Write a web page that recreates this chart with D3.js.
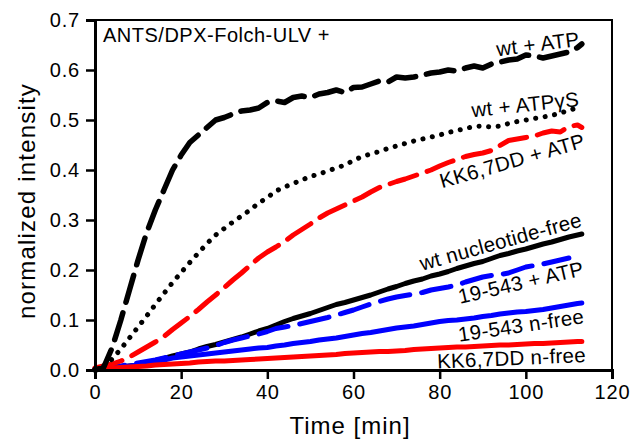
<!DOCTYPE html>
<html>
<head>
  <script src="https://d3js.org/d3.v7.min.js"></script>
  <style>
    body { margin: 0; background: #fff; }
    text { font-family: "Liberation Sans", Arial, sans-serif; fill: #000; }
  </style>
</head>
<body>
<svg width="633" height="443"></svg>
<script>
  // time grid (min)
  var times = [0,2,4,6,8,10,12,14,16,18,20,22,24,26,28,30,32,34,36,38,40,42,44,46,48,50,52,54,56,58,
    60,62,64,66,68,70,72,74,76,78,80,82,84,86,88,90,92,94,96,98,100,102,104,106,108,110,112,113];

  var wtATP = [0,0.005,0.045,0.10,0.16,0.22,0.275,0.32,0.36,0.40,0.43,0.455,0.47,0.485,0.50,0.505,0.512,0.518,0.52,0.524,
    0.535,0.538,0.535,0.545,0.548,0.545,0.552,0.555,0.56,0.555,0.565,0.566,0.572,0.578,0.576,0.586,0.584,0.586,0.59,0.594,
    0.596,0.60,0.598,0.604,0.608,0.604,0.612,0.616,0.62,0.622,0.63,0.628,0.624,0.628,0.632,0.636,0.645,0.652];
  var wtATPgS = [0.002,0.008,0.022,0.042,0.064,0.086,0.108,0.131,0.153,0.175,0.195,0.215,0.234,0.253,0.27,0.283,0.296,0.308,0.32,0.334,
    0.345,0.358,0.366,0.373,0.38,0.387,0.392,0.398,0.404,0.41,0.419,0.427,0.432,0.437,0.443,0.448,0.453,0.458,0.462,0.466,
    0.47,0.475,0.479,0.483,0.487,0.488,0.486,0.488,0.493,0.497,0.5,0.503,0.506,0.509,0.514,0.519,0.525,0.527];
  var kkATP = [0.004,0.008,0.012,0.018,0.026,0.036,0.046,0.056,0.067,0.081,0.094,0.107,0.121,0.136,0.15,0.165,0.18,0.194,0.209,0.224,
    0.236,0.246,0.257,0.27,0.281,0.292,0.304,0.314,0.322,0.33,0.338,0.346,0.356,0.365,0.371,0.377,0.382,0.388,0.394,0.40,
    0.408,0.415,0.421,0.427,0.431,0.434,0.439,0.449,0.459,0.462,0.465,0.468,0.474,0.478,0.476,0.487,0.49,0.485];
  var wtFree = [0.002,0.004,0.005,0.006,0.008,0.01,0.014,0.019,0.023,0.028,0.032,0.036,0.042,0.047,0.051,0.056,0.061,0.066,0.072,0.078,
    0.083,0.09,0.097,0.103,0.108,0.113,0.119,0.125,0.131,0.135,0.14,0.145,0.15,0.156,0.162,0.167,0.173,0.178,0.182,0.188,
    0.192,0.197,0.203,0.208,0.213,0.217,0.223,0.229,0.233,0.238,0.242,0.247,0.252,0.256,0.261,0.266,0.27,0.272];
  var mutATP = [0.002,0.004,0.006,0.008,0.011,0.014,0.017,0.02,0.024,0.028,0.032,0.036,0.04,0.044,0.049,0.055,0.06,0.064,0.068,0.072,
    0.077,0.083,0.086,0.089,0.093,0.097,0.101,0.105,0.11,0.115,0.12,0.126,0.132,0.137,0.142,0.146,0.149,0.152,0.155,0.16,
    0.163,0.166,0.17,0.176,0.181,0.186,0.189,0.191,0.194,0.2,0.206,0.209,0.212,0.216,0.22,0.224];
  var mutFree = [0.002,0.003,0.005,0.006,0.008,0.01,0.013,0.017,0.02,0.024,0.026,0.028,0.03,0.032,0.034,0.036,0.038,0.04,0.042,0.044,
    0.045,0.048,0.05,0.053,0.055,0.057,0.06,0.062,0.064,0.067,0.07,0.073,0.075,0.078,0.081,0.084,0.086,0.088,0.091,0.094,
    0.097,0.099,0.1,0.102,0.104,0.107,0.109,0.112,0.114,0.116,0.117,0.119,0.121,0.124,0.127,0.13,0.133,0.134];
  var kkFree = [0.002,0.003,0.004,0.005,0.006,0.007,0.008,0.01,0.011,0.012,0.013,0.014,0.016,0.017,0.018,0.018,0.019,0.02,0.021,0.022,
    0.023,0.024,0.025,0.026,0.027,0.028,0.029,0.03,0.031,0.033,0.034,0.035,0.036,0.037,0.037,0.038,0.039,0.041,0.042,0.043,
    0.044,0.045,0.046,0.046,0.047,0.048,0.049,0.05,0.05,0.051,0.052,0.053,0.053,0.054,0.055,0.056,0.057,0.057];

  var xTicks = [0,20,40,60,80,100,120];
  var yTicks = [0,0.1,0.2,0.3,0.4,0.5,0.6,0.7];

  var svg = d3.select("svg"),
    plotL = 95, plotR = 612, plotT = 20, plotB = 370;

  var x = d3.scaleLinear().domain([0,120]).range([plotL,plotR]);
  var y = d3.scaleLinear().domain([0,0.7]).range([plotB,plotT]);

  var line = d3.line()
    .x(function(d) { return x(d[0]); })
    .y(function(d) { return y(d[1]); });

  function pts(vals) {
    return vals.map(function(v, i) { return [times[i], v]; });
  }

  // draw order: bottom first
  var series = [
    {vals: wtFree, color: "#000", w: 5, dash: null},
    {vals: mutATP, color: "#0000ff", w: 5, dash: "30,12"},
    {vals: mutFree, color: "#0000ff", w: 5, dash: null},
    {vals: kkFree, color: "#ff0000", w: 5, dash: null},
    {vals: kkATP, color: "#ff0000", w: 5, dash: "28,11"},
    {vals: wtATPgS, color: "#000", w: 5, dash: "0.1,9.5"},
    {vals: wtATP, color: "#000", w: 5.5, dash: "28,11"}
  ];

  svg.selectAll("path.series")
    .data(series)
    .enter()
    .append("path")
    .attr("class", "series")
    .attr("fill", "none")
    .attr("stroke", function(d) { return d.color; })
    .attr("stroke-width", function(d) { return d.w; })
    .attr("stroke-linecap", "round")
    .attr("stroke-linejoin", "round")
    .attr("stroke-dasharray", function(d) { return d.dash; })
    .attr("d", function(d) { return line(pts(d.vals)); });

  // frame top / right
  svg.append("path")
    .attr("d", "M" + plotL + "," + plotT + "H" + plotR + "V" + plotB)
    .attr("fill", "none").attr("stroke", "#000").attr("stroke-width", 2);

  // axes
  var xAxis = svg.append("g").attr("transform", "translate(0," + plotB + ")")
    .call(d3.axisBottom(x).tickValues(xTicks).tickSize(9).tickPadding(6).tickFormat(d3.format("d")));
  var yAxis = svg.append("g").attr("transform", "translate(" + plotL + ",0)")
    .call(d3.axisLeft(y).tickValues(yTicks).tickSize(9).tickPadding(6).tickFormat(d3.format(".1f")));

  [xAxis, yAxis].forEach(function(g) {
    g.select(".domain").attr("stroke-width", 3);
    g.selectAll(".tick line").attr("stroke-width", 2.5);
    g.selectAll("text").attr("font-size", 20).attr("fill", "#000")
      .style("font-family", '"Liberation Sans", Arial, sans-serif')
      .style("letter-spacing", "0.8px");
  });

  // axis titles
  svg.append("text")
    .attr("x", 350).attr("y", 434)
    .attr("text-anchor", "middle")
    .attr("font-size", 24)
    .style("letter-spacing", "1px")
    .text("Time [min]");

  svg.append("text")
    .attr("transform", "translate(35,201) rotate(-90)")
    .attr("text-anchor", "middle")
    .attr("font-size", 24)
    .style("letter-spacing", "1.2px")
    .text("normalized intensity");

  svg.append("text")
    .attr("x", 103).attr("y", 42)
    .attr("font-size", 20)
    .style("letter-spacing", "0.5px")
    .text("ANTS/DPX-Folch-ULV +");

  // curve labels
  var labels = ["wt + ATP", "wt + ATP\u03b3S", "KK6,7DD + ATP", "wt nucleotide-free", "19-543 + ATP", "19-543 n-free", "KK6,7DD n-free"];
  var labelT = [112.6, 112.5, 114, 113.3, 113.7, 113.7, 114];
  var labelV = [0.648, 0.528, 0.446, 0.288, 0.19, 0.094, 0.016];
  var labelAngle = [-7, -6, -16, -15.5, -13, -8.5, -2.5];

  svg.selectAll("text.lbl")
    .data(labels)
    .enter()
    .append("text")
    .attr("class", "lbl")
    .attr("text-anchor", "end")
    .attr("font-size", 20.5)
    .style("letter-spacing", "0.3px")
    .attr("transform", function(d, i) {
      return "translate(" + x(labelT[i]) + "," + y(labelV[i]) + ") rotate(" + labelAngle[i] + ")";
    })
    .text(function(d) { return d; });
</script>
</body>
</html>
